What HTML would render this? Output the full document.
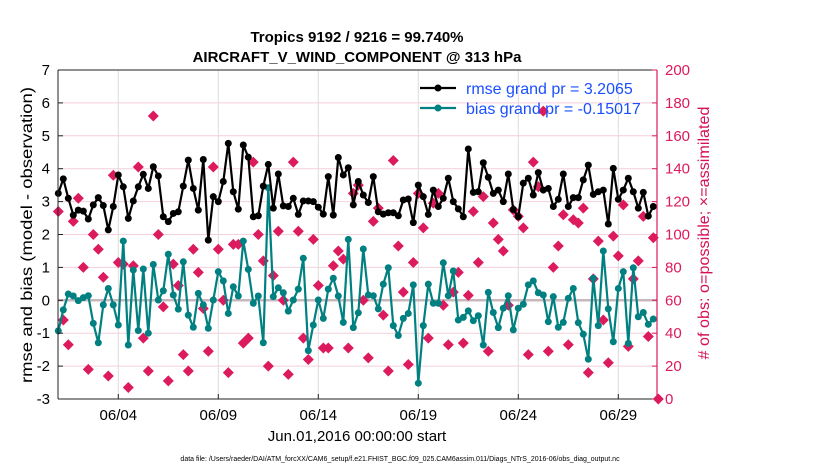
<!DOCTYPE html>
<html><head><meta charset="utf-8">
<style>
html,body{margin:0;padding:0;background:#fff;}
svg{display:block;font-family:"Liberation Sans",sans-serif;}
</style></head>
<body>
<svg id="chart" width="830" height="470" viewBox="0 0 830 470" xmlns="http://www.w3.org/2000/svg">
  <rect x="0" y="0" width="830" height="470" fill="#fff"/>
  <text x="357" y="42" font-size="15" font-weight="bold" text-anchor="middle">Tropics 9192 / 9216 = 99.740%</text>
  <text x="357" y="62" font-size="15" font-weight="bold" text-anchor="middle">AIRCRAFT_V_WIND_COMPONENT @ 313 hPa</text>
  <g id="grid"></g>
  <g id="marks"></g>
  <g id="axes"></g>
  <text transform="translate(32,235) rotate(-90)" font-size="16" text-anchor="middle" textLength="296" lengthAdjust="spacingAndGlyphs">rmse and bias (model - observation)</text>
  <text transform="translate(709,233) rotate(-90)" font-size="16" fill="#d6105a" text-anchor="middle" textLength="253" lengthAdjust="spacingAndGlyphs"># of obs: o=possible; ×=assimilated</text>
  <text x="357" y="441" font-size="15" text-anchor="middle">Jun.01,2016 00:00:00 start</text>
  <text x="400" y="461" font-size="7" text-anchor="middle">data file: /Users/raeder/DAI/ATM_forcXX/CAM6_setup/f.e21.FHIST_BGC.f09_025.CAM6assim.011/Diags_NTrS_2016-06/obs_diag_output.nc</text>
  <g>
    <line x1="420" y1="88" x2="456" y2="88" stroke="#000" stroke-width="2.2"/>
    <circle cx="438" cy="88" r="3.5" fill="#000"/>
    <text x="466" y="94" font-size="16" fill="#1a4fff">rmse grand pr = 3.2065</text>
    <line x1="420" y1="108" x2="456" y2="108" stroke="#008080" stroke-width="2.2"/>
    <circle cx="438" cy="108" r="3.5" fill="#008080"/>
    <text x="466" y="114" font-size="16" fill="#1a4fff">bias grand pr = -0.15017</text>
  </g>
</svg>
<script>
const rmse = [3.25,3.69,3.10,2.59,2.74,2.71,2.47,2.90,3.12,2.88,2.14,2.85,3.81,3.45,2.49,3.02,3.45,3.83,3.40,4.06,3.78,2.54,2.39,2.64,2.69,3.47,4.26,3.40,2.74,4.28,1.83,
3.15,3.0,3.61,4.77,3.30,2.77,4.72,4.35,2.54,2.57,3.47,4.13,2.80,3.84,2.87,2.85,3.10,2.61,3.02,3.02,3.0,2.83,2.62,3.76,2.59,4.34,3.81,4.03,2.90,3.61,
3.20,2.97,3.76,2.69,2.62,2.66,2.66,2.57,3.05,3.08,2.36,3.50,3.15,2.61,3.35,2.85,3.10,3.71,3.0,2.78,2.54,4.60,3.28,3.30,4.18,3.74,3.25,3.35,3.0,3.84,
2.76,2.54,3.56,3.71,3.20,3.88,3.35,3.40,2.85,3.07,3.84,2.85,3.12,3.12,3.66,4.11,3.22,3.30,3.35,2.32,4.01,3.07,3.35,3.71,3.30,2.80,3.28,2.56,2.85];
const bias = [-0.93,-0.29,0.19,0.13,-0.01,0.08,0.14,-0.70,-1.29,-0.14,0.36,-0.14,-0.75,1.80,-1.36,0.92,-0.92,0.95,-1.0,1.09,0.01,0.29,1.40,0.16,-0.27,1.17,-0.45,-0.82,0.21,-0.14,-0.85,
0.01,0.87,0.59,-0.40,0.41,0.13,1.80,0.94,-0.09,0.13,-1.29,3.42,0.11,0.38,0.23,-0.33,0.01,0.34,1.28,-1.53,-0.75,0.01,-0.55,0.34,0.67,0.13,-0.67,1.85,-0.83,-0.38,
1.56,0.16,0.14,-0.26,0.49,0.99,-0.77,-1.07,-0.55,-0.40,0.47,-2.52,-0.77,0.49,-0.09,-0.09,1.14,0.14,0.89,-0.60,-0.52,-0.32,-0.62,-0.47,-1.36,0.24,-0.37,-0.83,-0.24,0.14,
-0.90,-0.24,-0.12,0.47,0.59,0.23,0.16,-0.65,0.11,-0.82,-0.67,0.06,0.36,-0.68,-1.03,-1.79,0.67,-0.77,1.50,-0.26,-1.26,0.36,0.87,-1.31,0.99,-0.50,-0.37,-0.73,-0.57];
const nobs = [114,48,33,108,122,80,18,100,91,74,14,136,83,82,7,81,141,37,17,172,100,56,11,82,69,27,17,91,77,55,29,
141,91,60,16,94,94,34,37,144,100,84,20,75,102,60,15,144,102,37,24,97,69,31,31,81,90,85,31,125,130,
60,25,108,116,51,17,145,93,65,21,83,125,104,37,119,125,57,33,65,77,34,63,114,83,123,29,107,97,90,57,
115,111,104,27,144,129,175,29,80,93,112,33,109,107,116,16,73,96,48,22,99,87,118,32,73,84,111,38,98,0];
const leftTicks = [-3,-2,-1,0,1,2,3,4,5,6,7];
const rightTicks = [0,20,40,60,80,100,120,140,160,180,200];
const xTickDays = [3,8,13,18,23,28];
const xTickLabels = ["06/04","06/09","06/14","06/19","06/24","06/29"];
const stepDays = 0.25;

const NS = "http://www.w3.org/2000/svg";
const L = 58, R = 657, T = 70, B = 399;
function xs(day){ return 58.3 + 20 * day; }
function yl(v){ return T + (7 - v) * (B - T) / 10; }
function yr(v){ return B - v * (B - T) / 200; }
function mk(tag, attrs, parent){
  const e = document.createElementNS(NS, tag);
  for (const k in attrs) e.setAttribute(k, attrs[k]);
  parent.appendChild(e);
  return e;
}
const grid = document.getElementById('grid');
const marks = document.getElementById('marks');
const axes = document.getElementById('axes');

leftTicks.forEach(v => {
  const g = mk('line', {x1:L, x2:R, y1:yl(v), y2:yl(v), stroke:'#f4cfdc', 'stroke-width':1}, grid);
  
  
});
xTickDays.forEach(d => {
  const g = mk('line', {x1:xs(d), x2:xs(d), y1:T, y2:B, stroke:'#dcdcdc', 'stroke-width':1}, grid);
  
  
});
const z = mk('line', {x1:L, x2:R, y1:yl(0), y2:yl(0), stroke:'#c8b8be', 'stroke-width':2.5}, grid);



nobs.forEach((v, i) => {
  const x = xs(i * stepDays), y = yr(v);
  const m = mk('path', {d:`M${x-5.5},${y} L${x},${y-5.5} L${x+5.5},${y} L${x},${y+5.5} Z`, fill:'#dc1a5e'}, marks);
  
  
});

function series(vals, color, name){
  const pts = vals.map((v, i) => xs(i * stepDays).toFixed(1) + ',' + yl(v).toFixed(1)).join(' ');
  const pl = mk('polyline', {points:pts, fill:'none', stroke:color, 'stroke-width':2.2, 'stroke-linejoin':'round'}, marks);
  
  
  vals.forEach((v, i) => {
    const c = mk('circle', {cx:xs(i * stepDays), cy:yl(v), r:3.5, fill:color}, marks);
    
    
  });
}
series(bias, '#008080', 'bias');
series(rmse, '#000000', 'rmse');

const f1 = mk('line', {x1:L, x2:R, y1:T, y2:T, stroke:'#222', 'stroke-width':1}, axes);


const f2 = mk('line', {x1:L, x2:R, y1:B, y2:B, stroke:'#222', 'stroke-width':1}, axes);


const f3 = mk('line', {x1:L, x2:L, y1:T, y2:B, stroke:'#222', 'stroke-width':1}, axes);


const f4 = mk('line', {x1:R, x2:R, y1:T, y2:B, stroke:'#dc1a5e', 'stroke-width':1.2}, axes);



leftTicks.forEach(v => {
  const t = mk('line', {x1:L, x2:L+5, y1:yl(v), y2:yl(v), stroke:'#222'}, axes);
  
  
  const tx = mk('text', {x:L-8, y:yl(v)+5, 'font-size':15, 'text-anchor':'end'}, axes);
  tx.textContent = v;
  
  
});
rightTicks.forEach(v => {
  const t = mk('line', {x1:R-5, x2:R, y1:yr(v), y2:yr(v), stroke:'#dc1a5e'}, axes);
  
  
  const tx = mk('text', {x:R+8, y:yr(v)+5, 'font-size':15, fill:'#dc1a5e'}, axes);
  tx.textContent = v;
  
  
});
xTickDays.forEach((d, k) => {
  const t = mk('line', {x1:xs(d), x2:xs(d), y1:B-5, y2:B, stroke:'#222'}, axes);
  
  
  const tx = mk('text', {x:xs(d), y:420, 'font-size':15, 'text-anchor':'middle'}, axes);
  tx.textContent = xTickLabels[k];
  
  
});
</script>
</body></html>
